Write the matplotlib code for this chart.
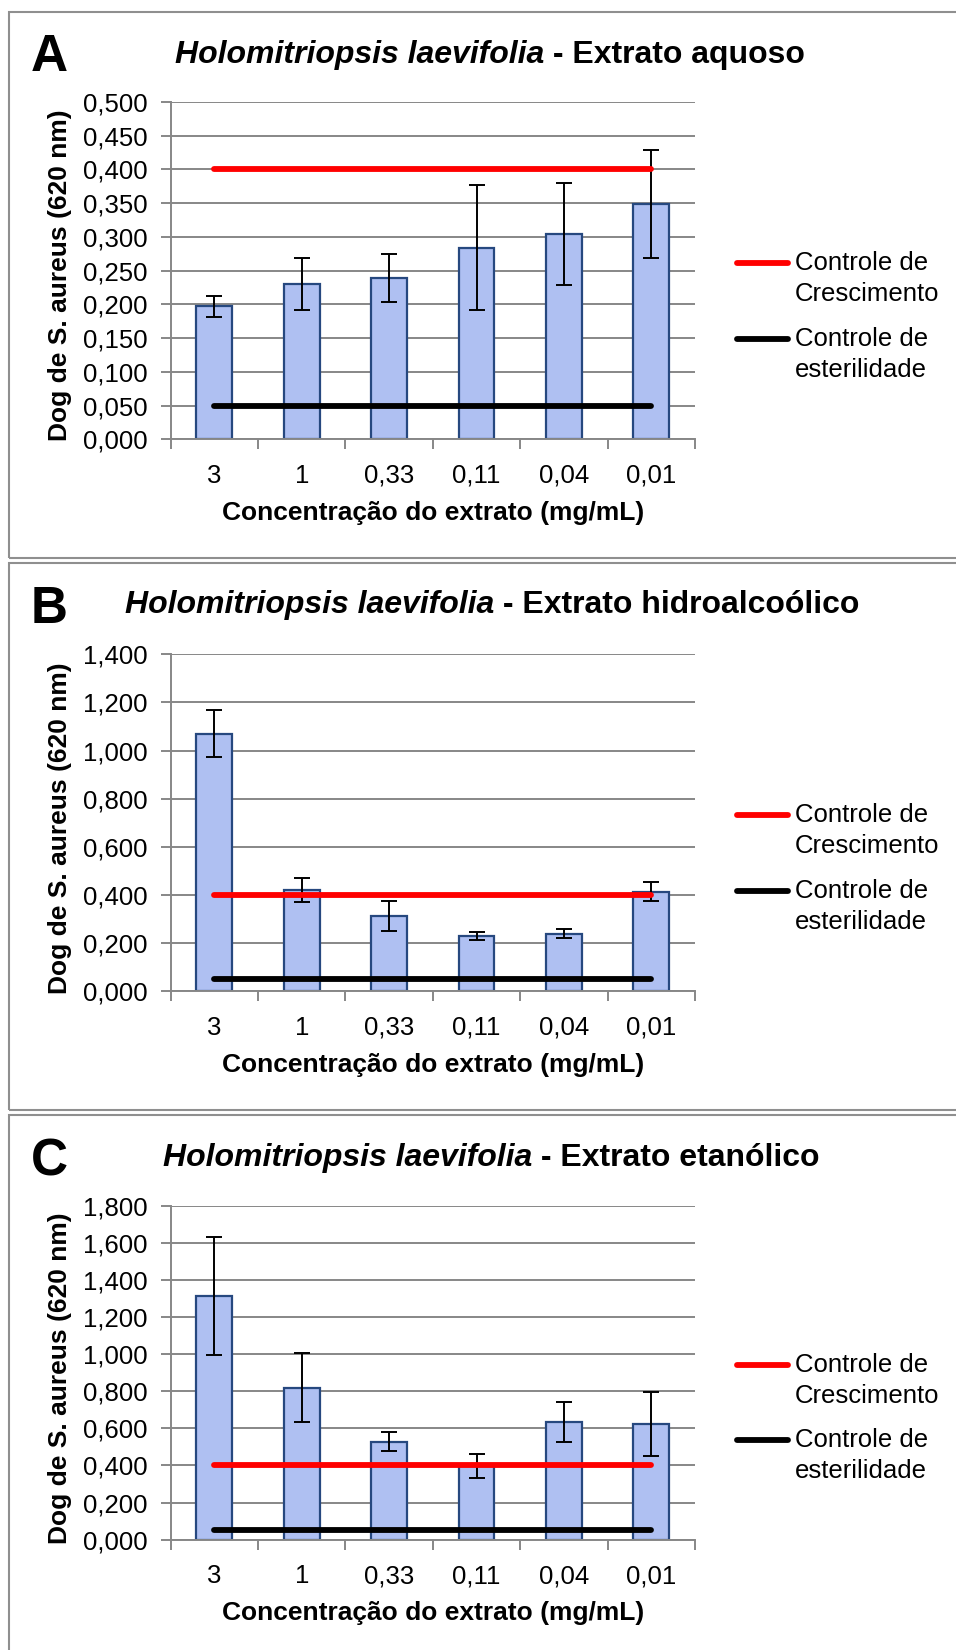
import matplotlib
matplotlib.use("Agg")
import matplotlib.pyplot as plt
import numpy as np
from matplotlib.lines import Line2D
from matplotlib.patches import Rectangle

plt.rcParams['font.family'] = ['Liberation Sans', 'DejaVu Sans']

# concentrations tested (mg/mL)
concentracoes = ['3', '1', '0,33', '0,11', '0,04', '0,01']

# mean absorbance and standard deviation per extract
aquoso = [0.197, 0.230, 0.239, 0.284, 0.304, 0.349]
aquoso_dp = [0.016, 0.038, 0.035, 0.093, 0.075, 0.080]

hidroalcoolico = [1.070, 0.421, 0.313, 0.230, 0.240, 0.414]
hidroalcoolico_dp = [0.098, 0.048, 0.062, 0.017, 0.020, 0.039]

etanolico = [1.314, 0.820, 0.529, 0.399, 0.635, 0.625]
etanolico_dp = [0.316, 0.184, 0.049, 0.065, 0.107, 0.172]

controle_crescimento = 0.400
controle_esterilidade = 0.050

W, H = 956, 1650
GRID = '#878787'
BAR = '#AFC0F2'
BAR_EDGE = '#26487F'


def fx(x):
    return x / W


def fy(y):
    return 1 - y / H


def fmt(v):
    return f"{v:.3f}".replace('.', ',')


def draw_panel(fig, letter, extrato, medias, dp, ymax, ystep,
               box, ax_top, ax_bottom, title_x, title_base, letter_base):
    # outer frame of the panel
    top, bottom = box
    fig.add_artist(Rectangle((fx(9), fy(bottom)), 1.2, (bottom - top) / H,
                             transform=fig.transFigure, fill=False,
                             ec='#8f8f8f', lw=1.5))

    left, right = 170.7, 695
    ax = fig.add_axes([fx(left), fy(ax_bottom), (right - left) / W,
                       (ax_bottom - ax_top) / H])

    x = np.arange(len(concentracoes))
    ax.bar(x, medias, width=0.41, color=BAR, edgecolor=BAR_EDGE,
           linewidth=1.6, zorder=2)
    ax.errorbar(x, medias, yerr=dp, fmt='none', ecolor='black',
                elinewidth=1.4, capsize=5.5, capthick=1.4, zorder=3)
    ax.plot(x, [controle_crescimento] * len(x), color='#FF0000', lw=4.2,
            solid_capstyle='round', zorder=4)
    ax.plot(x, [controle_esterilidade] * len(x), color='black', lw=4.2,
            solid_capstyle='round', zorder=4)

    ax.set_xlim(-0.5, len(x) - 0.5)
    ax.set_ylim(0, ymax)
    yt = np.arange(0, ymax + ystep / 2, ystep)
    ax.set_yticks(yt, [fmt(v) for v in yt])
    ax.set_xticks(x, concentracoes)
    ax.set_xticks(np.arange(-0.5, len(x), 1), minor=True)

    ax.tick_params(axis='x', which='major', length=0, pad=17.5, labelsize=18.5)
    ax.tick_params(axis='x', which='minor', length=7, width=1.4,
                   color=GRID, direction='out')
    ax.tick_params(axis='y', length=7.5, width=1.4, color=GRID,
                   pad=9, labelsize=18.5)

    ax.grid(axis='y', color=GRID, lw=1.4, zorder=0)
    ax.set_axisbelow(True)
    for s in ('top', 'right'):
        ax.spines[s].set_visible(False)
    for s in ('left', 'bottom'):
        ax.spines[s].set_color(GRID)
        ax.spines[s].set_linewidth(1.4)

    ax.set_ylabel('Dog de S. aureus (620 nm)', fontsize=19, weight='bold',
                  va='center')
    ax.yaxis.set_label_coords(-0.211, 0.485)
    ax.set_xlabel('Concentração do extrato (mg/mL)', fontsize=19,
                  weight='bold', va='center')
    ax.xaxis.set_label_coords(0.5, -0.218)

    # legend drawn beside the axes
    h = ax_bottom - ax_top
    entries = [('#FF0000', 'Controle de', 'Crescimento', 0.478),
               ('black', 'Controle de', 'esterilidade', 0.702)]
    for cor, l1, l2, yy in entries:
        ax.add_line(Line2D([1.080, 1.177], [1 - yy, 1 - yy], color=cor,
                           lw=4.2, solid_capstyle='round',
                           transform=ax.transAxes, clip_on=False))
        ax.text(1.191, 1 - yy, l1, transform=ax.transAxes, fontsize=18.5,
                va='center', ha='left')
        ax.text(1.191, 1 - yy - 31 / h, l2, transform=ax.transAxes,
                fontsize=18.5, va='center', ha='left')

    # panel letter and title
    fig.text(fx(31), fy(letter_base), letter, fontsize=37, weight='bold',
             va='baseline')
    t1 = fig.text(fx(title_x), fy(title_base), 'Holomitriopsis laevifolia',
                  fontsize=23, weight='bold', style='italic', va='baseline')
    ax.annotate(' - ' + extrato, xy=(1, 0), xycoords=t1, fontsize=23,
                weight='bold', va='bottom', ha='left')
    return ax


fig = plt.figure(figsize=(W / 100, H / 100), dpi=100)

draw_panel(fig, 'A', 'Extrato aquoso', aquoso, aquoso_dp, 0.5, 0.05,
           (11.7, 557.7), 101.8, 439.3, 175, 62.5, 71.4)
draw_panel(fig, 'B', 'Extrato hidroalcoólico', hidroalcoolico,
           hidroalcoolico_dp, 1.4, 0.2,
           (562.7, 1110), 654.3, 991.4, 125, 613, 623)
draw_panel(fig, 'C', 'Extrato etanólico', etanolico, etanolico_dp, 1.8, 0.2,
           (1114.7, 1700), 1205.7, 1539.7, 163, 1165.8, 1175.4)

fig.savefig('out.png', dpi=100)
